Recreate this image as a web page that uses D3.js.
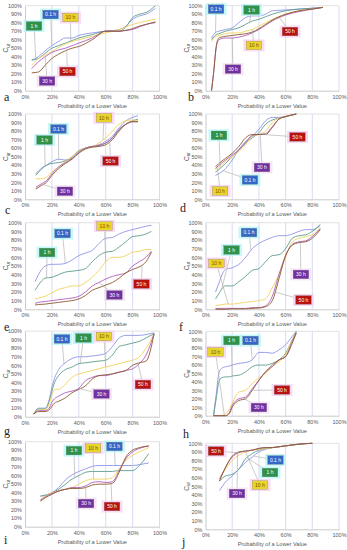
<!DOCTYPE html>
<html><head><meta charset="utf-8">
<script src="https://cdn.jsdelivr.net/npm/d3@7"></script>
<style>body{margin:0;background:#fff}svg{display:block}</style>
</head><body>
<svg id="c" width="347" height="550"></svg>
<script>
const seriesNames = ["0.1 h","1 h","10 h","30 h","50 h"];
const xTicks = [0,0.2,0.4,0.6,0.8,1];
const yTicks = [0,0.1,0.2,0.3,0.4,0.5,0.6,0.7,0.8,0.9,1];

// panel a
const aX = [.05,.10,.15,.20,.25,.30,.35,.40,.50,.60,.70,.75,.80,.85,.90,.97];
const aY = [
 [.36,.40,.47,.53,.58,.62,.62,.65,.68,.70,.72,.76,.84,.88,.90,.97],
 [.36,.38,.44,.50,.53,.56,.59,.62,.66,.70,.70,.75,.86,.90,.92,1.0],
 [.30,.38,.42,.46,.51,.55,.58,.60,.64,.68,.72,.75,.78,.80,.82,.84],
 [.26,.34,.40,.45,.48,.50,.53,.56,.62,.70,.70,.71,.72,.75,.78,.80],
 [.21,.22,.30,.38,.43,.47,.50,.52,.60,.70,.70,.71,.73,.76,.78,.81]];
// panel b
const bX = [.045,.06,.08,.10,.15,.20,.25,.30,.35,.40,.45,.50,.60,.70,.80,.88];
const bY = [
 [.62,.66,.69,.70,.72,.74,.80,.86,.88,.88,.90,.94,.95,.96,.97,.98],
 [.60,.63,.66,.67,.70,.72,.74,.78,.82,.84,.87,.90,.94,.96,.97,.98],
 [.58,.61,.64,.65,.67,.68,.68,.70,.72,.76,.80,.84,.90,.94,.96,.98],
 [0,.20,.50,.60,.62,.62,.63,.65,.68,.72,.77,.82,.89,.93,.96,.98],
 [0,.20,.52,.62,.64,.65,.66,.67,.69,.73,.78,.83,.90,.94,.96,.98]];
// panel c
const cX = [.08,.12,.16,.20,.25,.30,.35,.40,.45,.50,.55,.60,.65,.70,.75,.80,.84];
const cY = [
 [.30,.36,.40,.44,.47,.46,.48,.56,.60,.62,.64,.68,.74,.84,.92,.96,.98],
 [.28,.35,.40,.42,.43,.45,.50,.57,.60,.62,.63,.66,.72,.82,.88,.92,.94],
 [.24,.24,.26,.32,.38,.44,.50,.56,.60,.62,.66,.72,.80,.88,.92,.93,.92],
 [.14,.18,.22,.30,.38,.43,.48,.55,.60,.62,.63,.66,.72,.82,.88,.91,.91],
 [.12,.16,.20,.28,.36,.42,.47,.54,.59,.61,.62,.64,.70,.80,.88,.91,.91]];
// panel d
const dX = [.075,.10,.15,.20,.25,.30,.35,.40,.45,.50,.55,.60,.68];
const dY = [
 [.28,.30,.36,.46,.58,.68,.74,.82,.92,.96,.96,.97,1.0],
 [.32,.35,.42,.50,.58,.66,.72,.78,.88,.93,.95,.97,1.0],
 [.35,.38,.44,.50,.56,.64,.74,.76,.80,.90,.95,.97,1.0],
 [.36,.40,.46,.52,.58,.66,.75,.76,.77,.85,.94,.97,1.0],
 [.38,.42,.48,.54,.62,.72,.76,.76,.76,.84,.94,.97,1.0]];
// panel e
const eX = [.075,.10,.15,.20,.25,.30,.35,.40,.45,.50,.55,.60,.65,.70,.75,.80,.85,.90,.94];
const eY = [
 [.32,.40,.50,.52,.52,.53,.57,.62,.65,.68,.76,.82,.83,.87,.90,.92,.94,.96,.97],
 [.22,.28,.36,.37,.40,.43,.44,.45,.47,.55,.62,.66,.67,.72,.78,.84,.85,.87,.90],
 [.12,.13,.15,.19,.23,.25,.27,.27,.31,.37,.45,.55,.60,.60,.62,.66,.67,.69,.69],
 [.07,.08,.09,.10,.11,.12,.13,.15,.20,.27,.31,.35,.38,.40,.42,.50,.55,.60,.67],
 [.05,.055,.06,.07,.08,.09,.10,.12,.16,.22,.25,.28,.31,.36,.42,.46,.49,.55,.66]];
// panel f
const fX = [.075,.10,.13,.15,.20,.25,.30,.35,.40,.45,.50,.55,.60,.65,.70,.75,.80,.86];
const fY = [
 [.20,.30,.42,.46,.48,.52,.60,.70,.76,.80,.83,.85,.85,.87,.90,.92,.92,.98],
 [.12,.18,.25,.27,.27,.32,.38,.45,.47,.55,.62,.63,.70,.82,.85,.86,.90,.97],
 [.04,.05,.055,.06,.06,.07,.08,.09,.10,.12,.25,.40,.60,.78,.82,.84,.86,.95],
 [.01,.01,.01,.01,.01,.01,.01,.02,.02,.04,.15,.40,.62,.75,.78,.79,.84,.93],
 [0,0,0,0,.005,.005,.005,.01,.015,.03,.10,.35,.62,.74,.77,.78,.82,.92]];
// panel g
const gX = [.065,.10,.15,.18,.20,.22,.25,.30,.35,.40,.45,.50,.55,.60,.65,.70,.75,.80,.85,.90,.96];
const gY = [
 [.03,.10,.10,.20,.34,.45,.55,.63,.68,.70,.70,.71,.72,.74,.82,.92,.95,.95,.95,.96,.98],
 [.03,.09,.09,.18,.30,.40,.48,.55,.58,.62,.63,.64,.65,.66,.72,.82,.84,.86,.88,.92,.97],
 [.03,.08,.08,.15,.25,.32,.32,.38,.46,.50,.52,.54,.56,.58,.60,.62,.64,.66,.70,.80,.97],
 [.03,.07,.07,.10,.17,.21,.24,.28,.30,.33,.42,.46,.48,.48,.50,.52,.54,.56,.62,.72,.97],
 [.03,.06,.06,.08,.12,.16,.18,.22,.28,.32,.36,.44,.48,.49,.50,.52,.54,.60,.63,.65,.97]];
// panel h
const hX = [.06,.08,.10,.12,.15,.18,.20,.25,.30,.35,.40,.45,.50,.55,.60,.65,.68];
const hY = [
 [0,.25,.50,.56,.58,.59,.60,.62,.63,.66,.75,.75,.74,.78,.84,.94,1.0],
 [0,.20,.40,.45,.46,.46,.47,.48,.52,.58,.60,.60,.62,.66,.74,.90,1.0],
 [0,0,0,.005,.02,.08,.15,.28,.30,.38,.45,.50,.58,.64,.72,.90,.99],
 [0,0,0,0,0,.04,.12,.20,.22,.32,.42,.52,.58,.66,.70,.88,.98],
 [0,0,0,0,0,.03,.10,.18,.20,.30,.42,.52,.60,.66,.70,.86,.98]];
// panel i
const iX = [.115,.15,.20,.25,.30,.35,.40,.45,.50,.55,.60,.65,.70,.75,.80,.85,.92];
const iY = [
 [.36,.37,.40,.46,.55,.61,.65,.68,.71,.72,.72,.72,.72,.72,.72,.73,.75],
 [.36,.37,.40,.44,.50,.56,.60,.64,.65,.65,.65,.65,.66,.66,.66,.72,.86],
 [.32,.36,.40,.42,.44,.46,.50,.54,.56,.56,.56,.58,.68,.78,.84,.88,.93],
 [.31,.35,.39,.42,.44,.46,.46,.48,.52,.53,.52,.53,.66,.80,.88,.92,.95],
 [.30,.34,.38,.42,.44,.45,.45,.46,.49,.50,.50,.51,.64,.82,.90,.93,.95]];
// panel j
const jX = [.105,.15,.20,.25,.30,.35,.40,.45,.50,.55,.60,.70,.80];
const jY = [
 [.45,.55,.62,.70,.78,.84,.90,.93,.95,.96,.97,.99,1.0],
 [.56,.62,.64,.70,.82,.88,.92,.94,.95,.96,.97,.99,1.0],
 [.60,.70,.80,.86,.90,.92,.93,.94,.95,.96,.97,.99,1.0],
 [.58,.72,.84,.89,.91,.92,.94,.95,.95,.96,.97,.99,1.0],
 [.56,.72,.85,.90,.91,.92,.94,.95,.95,.96,.97,.99,1.0]];

// layout
const cols = [[25,159.5],[205.5,339]];
const panels = [
 {k:'a',X:aX,Y:aY,col:0,top:5.7,bottom:90.7,lx:4,ly:101},
 {k:'b',X:bX,Y:bY,col:1,top:5.7,bottom:90.7,lx:188,ly:101},
 {k:'c',X:cX,Y:cY,col:0,top:114,bottom:199.3,lx:5,ly:214},
 {k:'d',X:dX,Y:dY,col:1,top:114,bottom:199.3,lx:180,ly:212},
 {k:'e',X:eX,Y:eY,col:0,top:222.7,bottom:309.3,lx:4,ly:331},
 {k:'f',X:fX,Y:fY,col:1,top:222.7,bottom:309.3,lx:179,ly:331},
 {k:'g',X:gX,Y:gY,col:0,top:331.1,bottom:416.7,lx:4,ly:435},
 {k:'h',X:hX,Y:hY,col:1,top:331.3,bottom:415.7,lx:183,ly:438},
 {k:'i',X:iX,Y:iY,col:0,top:441.7,bottom:526.7,lx:4,ly:544},
 {k:'j',X:jX,Y:jY,col:1,top:443.3,bottom:529.3,lx:182,ly:546}];
// label boxes: series, box centre (data units), leader target x
const notes = {
 a:[[0,.19,.896,.20],[2,.338,.861,.34],[1,.067,.761,.08],[4,.316,.226,.31],[3,.164,.114,.15]],
 b:[[0,.079,.96,.075],[1,.345,.95,.33],[4,.633,.696,.55],[2,.363,.533,.35],[3,.206,.254,.20]],
 c:[[0,.249,.824,.25],[1,.145,.695,.15],[2,.587,.955,.58],[4,.636,.449,.63],[3,.297,.094,.12]],
 d:[[1,.101,.75,.11],[4,.689,.731,.43],[3,.423,.373,.41],[0,.333,.227,.13],[2,.109,.098,.09]],
 e:[[0,.279,.875,.30],[2,.591,.962,.60],[1,.164,.656,.16],[4,.866,.292,.87],[3,.665,.165,.55]],
 f:[[0,.326,.886,.34],[1,.195,.685,.12],[2,.082,.53,.17],[3,.715,.403,.71],[4,.734,.108,.52]],
 g:[[0,.275,.908,.29],[1,.435,.92,.41],[2,.587,.937,.60],[4,.877,.376,.84],[3,.569,.265,.40]],
 h:[[1,.195,.891,.20],[0,.337,.891,.35],[2,.075,.755,.14],[4,.573,.305,.35],[3,.40,.097,.28]],
 i:[[1,.364,.895,.37],[2,.506,.925,.51],[0,.665,.944,.67],[3,.454,.273,.45],[4,.647,.238,.64]],
 j:[[4,.079,.91,.24],[0,.524,.806,.36],[1,.483,.66,.31],[2,.408,.515,.30],[3,.236,.416,.24]]};

const lineColors = ['#8f94e6','#5e9c8c','#f2d35a','#b05cb8','#8a5a2e'];
const boxFill = ['#3567c6','#2f9248','#e9d52a','#7131a1','#b8140f'];
const boxText = ['#fff','#fff','#7a4f00','#fff','#fff'];
const halo = ['#b2f7f7','#b2f7f7','#f8cdf2','#f3dcf3','#f8cdf2'];
const font = "'Liberation Sans', Arial, sans-serif";

const svg = d3.select('#c');
const pct = d3.format('.0%');

function interp(X, ys, t){
  const pts = X.map((v,i)=>[v,ys[i]]).filter(d=>d[1]!=null);
  if (t<=pts[0][0]) return pts[0][1];
  for (let i=1;i<pts.length;i++){
    if (t<=pts[i][0]){const [x0,y0]=pts[i-1],[x1,y1]=pts[i];return y0+(y1-y0)*(t-x0)/(x1-x0);}
  }
  return pts[pts.length-1][1];
}

panels.forEach(p=>{
  const g = svg.append('g');
  const x = d3.scaleLinear([0,1], cols[p.col]);
  const y = d3.scaleLinear([0,1], [p.bottom, p.top]);
  g.selectAll('line.vg').data(xTicks.filter(d=>d>0)).join('line')
    .attr('x1',d=>x(d)).attr('x2',d=>x(d)).attr('y1',y(0)).attr('y2',y(1))
    .attr('stroke','#c7cdee').attr('stroke-width',0.7);
  g.append('line').attr('x1',x(0)).attr('x2',x(1)).attr('y1',y(1)).attr('y2',y(1))
    .attr('stroke','#d4d4d4').attr('stroke-width',0.7);
  const ya = g.append('g').attr('transform',`translate(${x(0)},0)`)
    .call(d3.axisLeft(y).tickValues(yTicks).tickFormat(pct).tickSize(0).tickPadding(3));
  const xa = g.append('g').attr('transform',`translate(0,${y(0)})`)
    .call(d3.axisBottom(x).tickValues(xTicks).tickFormat(pct).tickSize(0).tickPadding(4));
  [ya,xa].forEach(a=>{
    a.select('.domain').attr('stroke','#bdbdbd').attr('stroke-width',0.8);
    a.selectAll('text').attr('font-size',5.5).attr('font-family',font).attr('fill','#595959');
  });
  g.append('text').attr('x',(x(0)+x(1))/2).attr('y',y(0)+17).attr('text-anchor','middle')
    .attr('font-size',5.6).attr('font-family',font).attr('fill','#595959').text('Probability of a Lower Value');
  const yt = g.append('text').attr('transform',`translate(${x(0)-17},${(y(0)+y(1))/2}) rotate(-90)`)
    .attr('text-anchor','middle').attr('font-size',6.5).attr('font-family',font).attr('fill','#595959');
  yt.append('tspan').text('C');
  yt.append('tspan').attr('font-size',4.5).attr('dy',1.5).text('ur');
  g.append('text').attr('x',p.lx).attr('y',p.ly).attr('font-size',12)
    .attr('font-family',"'Liberation Serif','DejaVu Serif',serif").attr('fill','#222').text(p.k);

  const line = d3.line().defined(d=>d[1]!=null).x(d=>x(d[0])).y(d=>y(d[1])).curve(d3.curveMonotoneX);
  p.Y.forEach((ys,i)=>{
    g.append('path').datum(p.X.map((v,j)=>[v,ys[j]])).attr('d',line)
      .attr('fill','none').attr('stroke',lineColors[i]).attr('stroke-width',0.9);
  });

  notes[p.k].forEach(([s,bx,by,tx])=>{
    const cx = x(bx), cy = y(by);
    const ty = interp(p.X, p.Y[s], tx);
    g.append('line').attr('x1',cx).attr('y1',cy).attr('x2',x(tx)).attr('y2',y(ty))
      .attr('stroke','#a8a8a8').attr('stroke-width',0.6);
  });
  notes[p.k].forEach(([s,bx,by])=>{
    const cx = x(bx), cy = y(by);
    g.append('rect').attr('x',cx-10.5).attr('y',cy-6).attr('width',21).attr('height',12)
      .attr('fill',halo[s]).attr('opacity',0.75);
    g.append('rect').attr('x',cx-7.8).attr('y',cy-4.3).attr('width',15.6).attr('height',8.6)
      .attr('fill',boxFill[s]).attr('stroke','#777').attr('stroke-width',0.3);
    g.append('text').attr('x',cx).attr('y',cy+1.8).attr('text-anchor','middle')
      .attr('font-size',5).attr('font-family',font).attr('fill',boxText[s]).text(seriesNames[s]);
  });
});
</script>
</body></html>
